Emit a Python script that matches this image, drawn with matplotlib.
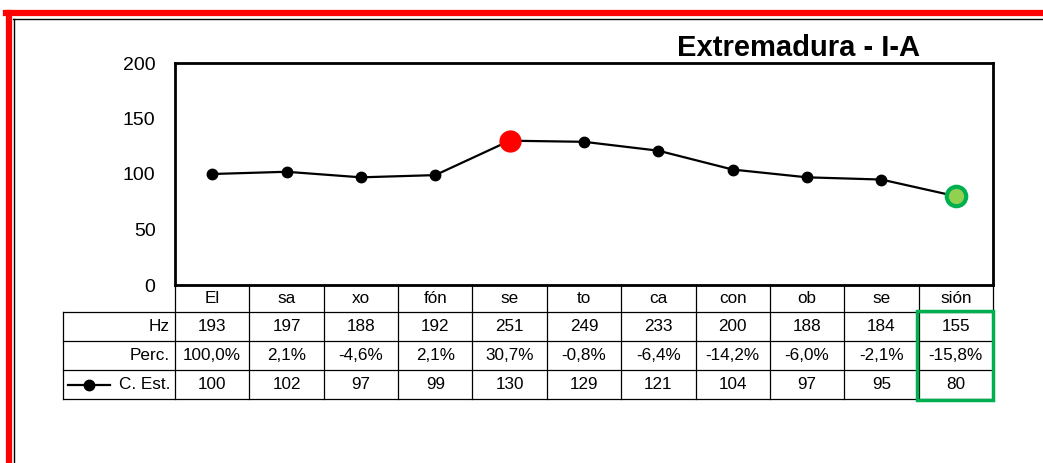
import matplotlib.pyplot as plt
from matplotlib.patches import Rectangle
from matplotlib.lines import Line2D

plt.rcParams['font.family'] = ['Liberation Sans', 'DejaVu Sans']

# data
silabas = ['El', 'sa', 'xo', 'fón', 'se', 'to', 'ca', 'con', 'ob', 'se', 'sión']
hz = [193, 197, 188, 192, 251, 249, 233, 200, 188, 184, 155]
perc = ['100,0%', '2,1%', '-4,6%', '2,1%', '30,7%', '-0,8%', '-6,4%', '-14,2%', '-6,0%', '-2,1%', '-15,8%']
c_est = [100, 102, 97, 99, 130, 129, 121, 104, 97, 95, 80]
yticks = [0, 50, 100, 150, 200]
titulo = 'Extremadura - I-A'

W, H = 1043, 463
fig = plt.figure(figsize=(W / 100, H / 100), dpi=100)

# plot area in pixels
L, R, T, B = 175, 993, 63, 285
ax = fig.add_axes([L / W, 1 - B / H, (R - L) / W, (B - T) / H])
n = len(silabas)
xs = list(range(n))
ax.plot(xs, c_est, color='black', lw=1.6, marker='o', ms=7.5, zorder=3)
imax = c_est.index(max(c_est))
ax.plot(xs[imax], c_est[imax], 'o', color='#ff0000', ms=15, zorder=4)
ax.plot(xs[-1], c_est[-1], 'o', color='#92d050', mec='#00b050', mew=3, ms=14, zorder=4)
ax.set_xlim(-0.5, n - 0.5)
ax.set_ylim(0, 200)
ax.set_yticks(yticks)
ax.tick_params(axis='y', length=0, labelsize=14, pad=14)
ax.set_xticks([])
for s in ax.spines.values():
    s.set_linewidth(2)

# overlay in pixel coords for table, frame, title
ov = fig.add_axes([0, 0, 1, 1], facecolor='none')
ov.set_xlim(0, W)
ov.set_ylim(H, 0)
ov.axis('off')

# red frame
ov.add_line(Line2D([6, W], [13, 13], color='#ff0000', lw=4.5))
ov.add_line(Line2D([9, 9], [13, H], color='#ff0000', lw=4.5))
ov.add_line(Line2D([13, W], [18.5, 18.5], color='black', lw=1))
ov.add_line(Line2D([13.5, 13.5], [18.5, H], color='black', lw=1))

ov.text(920, 48, titulo, ha='right', va='center', fontsize=21, fontweight='bold')

# table
cw = (R - L) / n
rows_y = [285, 312, 341, 370, 399]
lab_x0 = 63
lw_t = 0.9
for i in range(n + 1):
    x = L + i * cw
    ov.add_line(Line2D([x, x], [rows_y[0], rows_y[-1]], color='black', lw=lw_t))
ov.add_line(Line2D([lab_x0, lab_x0], [rows_y[1], rows_y[-1]], color='black', lw=lw_t))
ov.add_line(Line2D([L, R], [rows_y[0], rows_y[0]], color='black', lw=lw_t))
for y in rows_y[1:]:
    ov.add_line(Line2D([lab_x0, R], [y, y], color='black', lw=lw_t))

rows = [silabas, [str(v) for v in hz], perc, [str(v) for v in c_est]]
for r, vals in enumerate(rows):
    yc = (rows_y[r] + rows_y[r + 1]) / 2
    for i, v in enumerate(vals):
        ov.text(L + (i + 0.5) * cw, yc, v, ha='center', va='center', fontsize=12.3)

labels = ['Hz', 'Perc.', 'C. Est.']
for r, t in enumerate(labels):
    yc = (rows_y[r + 1] + rows_y[r + 2]) / 2
    ov.text(L - 5, yc, t, ha='right', va='center', fontsize=12.3)
# legend key in last row
yk = (rows_y[3] + rows_y[4]) / 2
ov.add_line(Line2D([68, 110], [yk, yk], color='black', lw=1.6))
ov.plot([89], [yk], 'o', color='black', ms=7.5)

# green highlight box
ov.add_patch(Rectangle((L + (n - 1) * cw - 2, rows_y[1] - 1), cw + 2, rows_y[-1] - rows_y[1] + 2,
                       fill=False, ec='#00b050', lw=2.5, zorder=5))

fig.savefig('out.png', dpi=100)
